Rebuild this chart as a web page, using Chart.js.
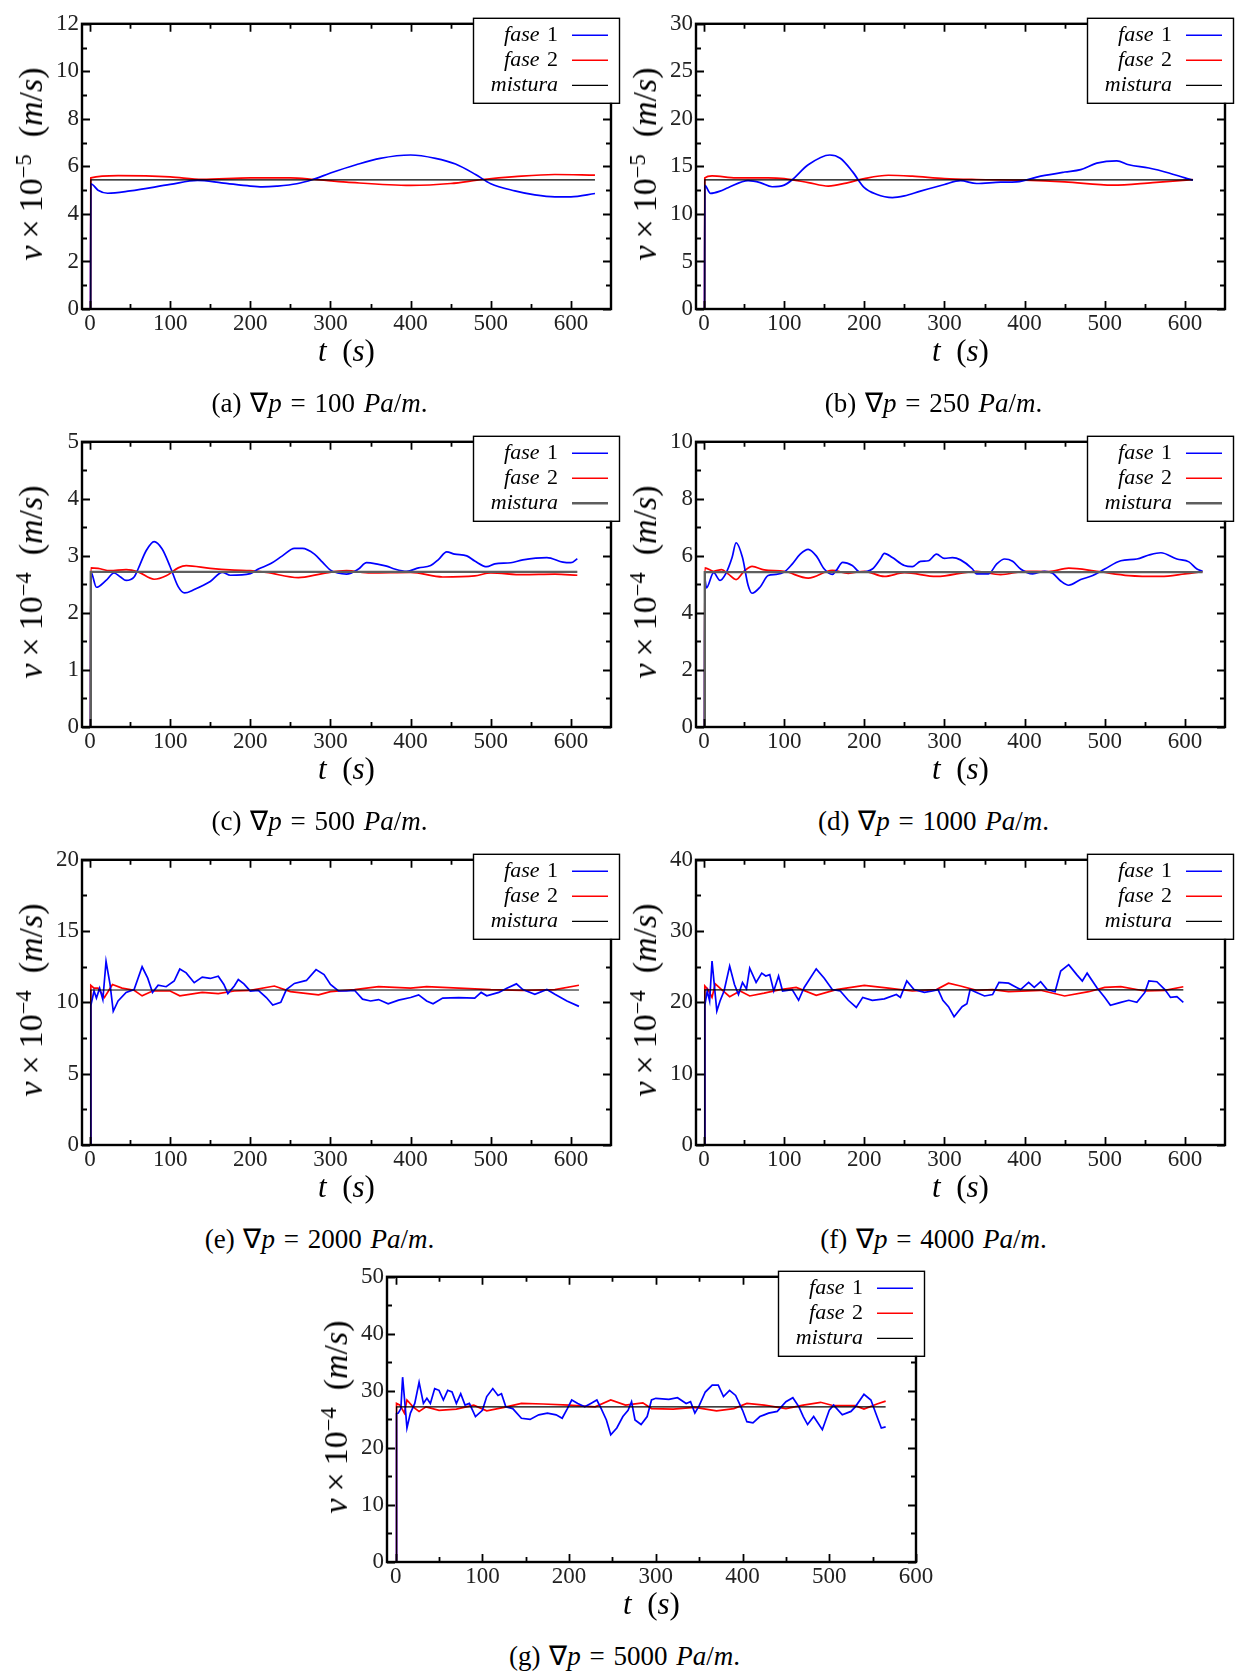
<!DOCTYPE html>
<html lang="pt">
<head>
<meta charset="UTF-8">
<title>Velocidade das fases</title>
<script src="https://cdn.jsdelivr.net/npm/chart.js"></script>
<style>
  body { margin: 0; background: #fff; }
  #page { position: relative; width: 1235px; height: 1671px; overflow: hidden; font-family: 'Liberation Serif', 'Times New Roman', Times, serif; color: #000; }
  .box { position: absolute; }
  .lbl { position: absolute; white-space: nowrap; transform: translate(-50%, -50%); line-height: 1; }
  .xt { font-size: 31px; }
  .yt { font-size: 34px; transform: translate(-50%, -50%) rotate(-90deg); }
  .cap { font-size: 27px; word-spacing: 2px; }
  sup { font-size: 0.66em; vertical-align: 0.5em; line-height: 0; }
  .op { margin: 0 7px; }
</style>
</head>
<body>
<div id="page"></div>
<script>
// ---- data: [t (s), v] ----
const xTicks = [0, 100, 200, 300, 400, 500, 600];

// (a) grad p = 100 Pa/m, v x 1e-5
const a_fase1 = [[0.6,0],[1,5.27],[10,5.0],[22,4.87],[50,4.97],[100,5.24],[134,5.41],[164,5.31],[200,5.17],[215,5.14],[233,5.17],[258,5.27],[278,5.45],[300,5.72],[332,6.07],[362,6.34],[400,6.48],[431,6.34],[456,6.10],[481,5.66],[500,5.27],[530,4.97],[555,4.80],[580,4.72],[600,4.72],[630,4.86]];
const a_fase2 = [[0.6,0],[1,5.52],[35,5.61],[100,5.56],[140,5.45],[200,5.52],[250,5.52],[280,5.45],[320,5.34],[400,5.20],[450,5.28],[490,5.45],[530,5.57],[580,5.66],[630,5.63]];
const a_mistura = [[0.6,0],[1,5.43],[630,5.43]];

// (b) 250 Pa/m, v x 1e-5
const b_fase1 = [[0.6,0],[1,13.0],[8,12.17],[20,12.4],[30,12.76],[55,13.5],[70,13.3],[85,12.86],[100,13.03],[110,13.6],[130,15.17],[157,16.2],[170,15.86],[185,14.48],[200,12.76],[215,12.07],[235,11.72],[250,11.9],[270,12.4],[300,13.1],[320,13.5],[340,13.2],[370,13.34],[390,13.38],[420,13.97],[450,14.41],[470,14.66],[490,15.34],[515,15.59],[530,15.17],[555,14.83],[580,14.31],[600,13.79],[610,13.55]];
const b_fase2 = [[0.6,0],[1,13.79],[10,14.0],[40,13.8],[80,13.8],[100,13.72],[130,13.3],[155,12.93],[180,13.3],[200,13.72],[230,14.07],[260,13.97],[300,13.72],[340,13.62],[400,13.55],[450,13.38],[510,13.03],[560,13.3],[610,13.6]];
const b_mistura = [[0.6,0],[1,13.59],[610,13.59]];

// (c) 500 Pa/m, v x 1e-4
const c_fase1 = [[0.6,0],[1,2.72],[8,2.45],[20,2.57],[30,2.70],[38,2.63],[45,2.57],[55,2.63],[60,2.77],[70,3.09],[80,3.25],[90,3.12],[100,2.81],[110,2.46],[118,2.35],[130,2.41],[150,2.55],[165,2.71],[175,2.66],[200,2.69],[210,2.77],[225,2.86],[240,3.0],[255,3.13],[265,3.13],[280,3.03],[290,2.89],[300,2.75],[320,2.68],[335,2.77],[345,2.88],[360,2.85],[370,2.82],[380,2.77],[395,2.73],[410,2.79],[425,2.83],[435,2.94],[445,3.07],[455,3.03],[470,3.0],[480,2.91],[495,2.81],[505,2.86],[525,2.88],[540,2.93],[570,2.97],[590,2.89],[600,2.88],[608,2.95]];
const c_fase2 = [[0.6,0],[1,2.79],[10,2.78],[25,2.74],[45,2.76],[60,2.72],[80,2.59],[95,2.65],[110,2.79],[120,2.83],[150,2.78],[180,2.75],[200,2.74],[220,2.71],[260,2.62],[290,2.69],[320,2.74],[350,2.70],[400,2.71],[440,2.63],[480,2.65],[500,2.70],[540,2.67],[580,2.68],[608,2.66]];
const c_mistura = [[0.6,0],[1,2.72],[608,2.72]];

// (d) 1000 Pa/m, v x 1e-4
const d_fase1 = [[0.6,0],[1,5.2],[3,4.88],[12,5.41],[20,5.14],[27,5.37],[35,5.94],[40,6.46],[48,5.94],[55,4.97],[60,4.69],[70,4.91],[80,5.31],[90,5.35],[100,5.43],[110,5.71],[120,6.06],[130,6.23],[140,6.0],[150,5.54],[160,5.35],[165,5.49],[173,5.77],[185,5.66],[195,5.43],[210,5.54],[220,5.89],[225,6.09],[235,5.94],[250,5.66],[260,5.62],[270,5.81],[280,5.83],[290,6.06],[300,5.91],[310,5.94],[320,5.86],[335,5.54],[340,5.37],[355,5.37],[365,5.71],[375,5.89],[385,5.81],[395,5.54],[410,5.37],[425,5.46],[435,5.39],[445,5.12],[455,4.97],[470,5.17],[485,5.31],[500,5.54],[520,5.83],[540,5.89],[555,6.03],[570,6.11],[590,5.89],[605,5.79],[615,5.54],[622,5.46]];
const d_fase2 = [[0.6,0],[1,5.58],[12,5.46],[22,5.52],[30,5.37],[40,5.17],[50,5.46],[60,5.63],[75,5.51],[100,5.46],[130,5.22],[160,5.49],[180,5.39],[200,5.46],[225,5.28],[250,5.41],[290,5.28],[340,5.46],[370,5.34],[400,5.46],[430,5.45],[455,5.57],[490,5.46],[530,5.31],[570,5.28],[600,5.37],[622,5.45]];
const d_mistura = [[0.6,0],[1,5.43],[622,5.43]];

// (e) 2000 Pa/m, v x 1e-4
const e_fase1 = [[0.6,0],[1,9.77],[5,10.8],[8,10.3],[12,11.0],[16,10.2],[20,12.87],[25,11.26],[29,9.38],[35,10.1],[45,10.7],[55,10.9],[65,12.5],[72,11.7],[78,10.7],[85,11.2],[95,11.1],[105,11.5],[112,12.34],[120,12.07],[130,11.38],[140,11.77],[150,11.68],[160,11.84],[167,11.26],[172,10.62],[180,11.15],[185,11.6],[192,11.3],[200,10.8],[210,10.85],[220,10.34],[228,9.82],[238,10.0],[245,10.9],[255,11.33],[270,11.54],[282,12.3],[292,11.95],[300,11.26],[310,10.8],[320,10.8],[330,10.85],[340,10.23],[350,10.1],[360,10.2],[372,9.9],[385,10.16],[400,10.34],[410,10.53],[420,10.1],[428,9.9],[440,10.3],[460,10.34],[480,10.3],[488,10.7],[495,10.46],[510,10.7],[520,11.0],[532,11.3],[540,10.9],[555,10.57],[570,10.9],[580,10.57],[595,10.1],[610,9.72]];
const e_fase2 = [[0.6,0],[1,11.2],[5,11.0],[10,11.0],[18,10.34],[28,11.26],[40,11.0],[55,10.85],[65,10.46],[78,10.8],[100,10.8],[112,10.46],[140,10.7],[160,10.62],[180,10.8],[200,10.85],[230,11.15],[250,10.76],[285,10.53],[300,10.76],[330,10.9],[360,11.1],[400,11.0],[420,11.1],[460,11.0],[500,10.9],[540,10.85],[580,10.9],[610,11.2]];
const e_mistura = [[0.6,0],[1,10.87],[610,10.87]];

// (f) 4000 Pa/m, v x 1e-4
const f_fase1 = [[0.6,0],[1,19.6],[4,21.6],[7,20.2],[10,25.8],[14,21.1],[16,18.8],[20,20.2],[25,21.6],[32,25.1],[38,22.5],[43,21.1],[48,22.8],[53,21.9],[57,24.8],[65,22.8],[72,24.1],[77,23.7],[82,23.9],[87,21.6],[93,23.7],[98,21.6],[110,21.8],[118,20.3],[125,22.1],[140,24.7],[150,23.4],[160,21.8],[170,21.6],[180,20.3],[190,19.3],[198,20.7],[210,20.3],[225,20.5],[240,21.1],[245,20.7],[253,23.0],[262,21.8],[275,21.4],[285,21.6],[292,21.8],[298,20.3],[305,19.4],[312,18.0],[322,19.4],[328,19.8],[332,21.8],[340,21.4],[350,20.9],[360,21.1],[368,22.8],[380,22.7],[390,22.1],[395,21.8],[405,22.8],[412,22.1],[420,22.9],[428,21.8],[438,21.5],[445,24.4],[455,25.3],[465,23.9],[472,23.0],[478,24.1],[490,22.1],[500,20.7],[507,19.6],[520,20.0],[530,20.3],[540,20.0],[550,21.4],[555,23.0],[565,22.9],[575,21.8],[582,20.7],[590,20.8],[598,20.0]];
const f_fase2 = [[0.6,0],[1,22.3],[5,21.8],[10,20.7],[14,22.6],[22,21.8],[32,20.8],[45,21.6],[57,20.9],[75,21.3],[95,21.8],[115,22.1],[140,21.0],[165,21.8],[200,22.4],[230,22.0],[260,21.6],[290,21.8],[305,22.7],[320,22.3],[340,21.7],[360,21.8],[380,21.5],[420,21.7],[450,20.9],[480,21.5],[500,22.1],[520,22.2],[550,21.6],[575,21.7],[598,22.2]];
const f_mistura = [[0.6,0],[1,21.75],[598,21.75]];

// (g) 5000 Pa/m, v x 1e-4
const g_fase1 = [[0.6,0],[1,26.0],[3,26.1],[6,26.9],[8,32.4],[11,27.2],[13,23.5],[17,26.1],[22,27.8],[27,31.5],[32,27.8],[36,28.7],[40,27.8],[45,30.4],[50,30.1],[55,28.4],[60,30.1],[65,29.8],[70,27.8],[75,29.5],[80,27.5],[85,27.8],[92,25.5],[100,26.6],[105,29.0],[112,30.4],[118,29.2],[122,29.5],[127,27.2],[135,26.9],[145,25.2],[155,25.0],[165,25.8],[175,26.1],[185,25.8],[192,25.2],[198,26.9],[203,28.4],[210,27.8],[218,27.2],[225,27.8],[232,28.4],[237,26.9],[243,24.9],[248,22.3],[255,23.5],[262,25.5],[268,26.6],[272,28.1],[276,24.9],[283,24.1],[290,25.5],[295,28.4],[300,28.7],[315,28.5],[325,28.8],[335,27.8],[340,28.1],[345,26.1],[350,27.4],[357,29.8],[365,31.0],[372,31.0],[378,29.0],[385,30.1],[392,29.2],[400,26.6],[405,24.6],[412,24.4],[420,25.5],[425,25.8],[430,26.1],[440,26.4],[450,28.1],[458,28.8],[465,27.2],[470,25.5],[475,24.1],[482,25.5],[492,23.2],[500,26.6],[505,27.5],[515,25.8],[525,26.4],[530,27.2],[540,29.4],[548,28.4],[555,25.5],[560,23.5],[565,23.7]];
const g_fase2 = [[0.6,0],[1,27.8],[5,27.5],[10,26.1],[13,28.4],[20,27.2],[27,26.4],[35,27.2],[50,26.6],[70,26.8],[90,27.5],[105,26.5],[125,27.1],[145,27.8],[170,27.7],[200,27.5],[230,27.2],[248,28.4],[265,27.5],[285,27.9],[295,26.9],[320,26.8],[345,27.1],[370,26.5],[390,26.9],[405,27.8],[425,27.5],[450,26.9],[470,27.5],[490,28.0],[505,27.4],[530,27.4],[540,26.8],[555,27.7],[565,28.2]];
const g_mistura = [[0.6,0],[1,27.2],[565,27.2]];

const seriesNames = ['fase 1', 'fase 2', 'mistura'];

// ---- panel layout ----
const PW = 529, PH = 290;
const panels = [
  { key: 'a', left: 82,  top: 19,   xMax: 650, yTicks: [0,2,4,6,8,10,12], exp: '5', grad: '100',  f1: a_fase1, f2: a_fase2, mix: a_mistura, smooth: true,  mixColor: '#000', mixWidth: 1.2 },
  { key: 'b', left: 696, top: 19,   xMax: 650, yTicks: [0,5,10,15,20,25,30], exp: '5', grad: '250', f1: b_fase1, f2: b_fase2, mix: b_mistura, smooth: true,  mixColor: '#000', mixWidth: 1.2 },
  { key: 'c', left: 82,  top: 437,  xMax: 650, yTicks: [0,1,2,3,4,5], exp: '4', grad: '500',  f1: c_fase1, f2: c_fase2, mix: c_mistura, smooth: true,  mixColor: '#5e5e5e', mixWidth: 2.4 },
  { key: 'd', left: 696, top: 437,  xMax: 650, yTicks: [0,2,4,6,8,10], exp: '4', grad: '1000', f1: d_fase1, f2: d_fase2, mix: d_mistura, smooth: true,  mixColor: '#5e5e5e', mixWidth: 2.4 },
  { key: 'e', left: 82,  top: 855,  xMax: 650, yTicks: [0,5,10,15,20], exp: '4', grad: '2000', f1: e_fase1, f2: e_fase2, mix: e_mistura, smooth: false, mixColor: '#000', mixWidth: 1.2 },
  { key: 'f', left: 696, top: 855,  xMax: 650, yTicks: [0,10,20,30,40], exp: '4', grad: '4000', f1: f_fase1, f2: f_fase2, mix: f_mistura, smooth: false, mixColor: '#000', mixWidth: 1.2 },
  { key: 'g', left: 387, top: 1272, xMax: 600, yTicks: [0,10,20,30,40,50], exp: '4', grad: '5000', f1: g_fase1, f2: g_fase2, mix: g_mistura, smooth: false, mixColor: '#000', mixWidth: 1.2 }
];

const PAD_L = 70, PAD_T = 12, PAD_R = 24, PAD_B = 40;
const SERIF = "'Liberation Serif', 'Times New Roman', Times, serif";
const page = document.getElementById('page');
Chart.defaults.font.family = SERIF;

// frame, inward major/minor ticks on all four sides, and the boxed legend
const frameLegend = {
  id: 'frameLegend',
  afterDatasetsDraw(chart, args, opts) {
    const { ctx, chartArea: a, scales: { x, y } } = chart;
    ctx.save();
    ctx.strokeStyle = '#000';
    ctx.lineWidth = 1.8;
    const xs = x.ticks.map(t => t.value), ys = y.ticks.map(t => t.value);
    const mid = arr => arr.slice(0, -1).map((v, i) => (v + arr[i + 1]) / 2);
    ctx.beginPath();
    [[xs, 8], [mid(xs), 5]].forEach(([vals, len]) => vals.forEach(v => {
      const px = Math.round(x.getPixelForValue(v)) + 0.5;
      ctx.moveTo(px, a.bottom); ctx.lineTo(px, a.bottom - len);
      ctx.moveTo(px, a.top); ctx.lineTo(px, a.top + len);
    }));
    [[ys, 8], [mid(ys), 5]].forEach(([vals, len]) => vals.forEach(v => {
      const py = Math.round(y.getPixelForValue(v)) + 0.5;
      ctx.moveTo(a.left, py); ctx.lineTo(a.left + len, py);
      ctx.moveTo(a.right, py); ctx.lineTo(a.right - len, py);
    }));
    ctx.stroke();
    ctx.lineWidth = 2.4;
    ctx.strokeRect(a.left, a.top, a.right - a.left, a.bottom - a.top);

    // legend
    const bw = 146, bh = 85;
    const bx = a.right + 8 - bw, by = a.top - 6;
    ctx.fillStyle = '#fff';
    ctx.fillRect(bx, by, bw, bh);
    ctx.lineWidth = 1.4;
    ctx.strokeRect(bx + 0.5, by + 0.5, bw, bh);
    const colors = ['#0000ff', '#ff0000', opts.mixColor];
    const widths = [1.4, 1.4, opts.mixWidth];
    ctx.textBaseline = 'middle';
    ctx.fillStyle = '#000';
    seriesNames.forEach((name, i) => {
      const ry = by + 17 + i * 25;
      const tx = bx + 85;
      const parts = name.split(' ');
      ctx.textAlign = 'right';
      if (parts.length > 1) {
        ctx.font = '22px ' + SERIF;
        ctx.fillText(parts[1], tx, ry);
        const w = ctx.measureText(' ' + parts[1]).width;
        ctx.font = 'italic 22px ' + SERIF;
        ctx.fillText(parts[0], tx - w - 2, ry);
      } else {
        ctx.font = 'italic 22px ' + SERIF;
        ctx.fillText(name, tx, ry);
      }
      ctx.strokeStyle = colors[i];
      ctx.lineWidth = widths[i];
      ctx.beginPath();
      ctx.moveTo(bx + 99, ry + 0.5); ctx.lineTo(bx + 135, ry + 0.5);
      ctx.stroke();
    });
    ctx.restore();
  }
};

function addLabel(cls, html, cx, cy) {
  const d = document.createElement('div');
  d.className = 'lbl ' + cls;
  d.innerHTML = html;
  d.style.left = cx + 'px';
  d.style.top = cy + 'px';
  page.appendChild(d);
}

function buildPanel(p) {
  const W = PAD_L + PW + PAD_R, H = PAD_T + PH + PAD_B;
  const wrap = document.createElement('div');
  wrap.className = 'box';
  wrap.style.left = (p.left - PAD_L) + 'px';
  wrap.style.top = (p.top - PAD_T) + 'px';
  const cv = document.createElement('canvas');
  cv.width = W; cv.height = H;
  cv.style.width = W + 'px'; cv.style.height = H + 'px';
  wrap.appendChild(cv);
  page.appendChild(wrap);

  const pts = arr => arr.map(([t, v]) => ({ x: t, y: v }));
  const curve = p.smooth ? { cubicInterpolationMode: 'monotone' } : { tension: 0 };
  const tickFont = { family: SERIF, size: 23 };

  new Chart(cv, {
    type: 'line',
    data: {
      datasets: [
        { label: seriesNames[2], data: pts(p.mix), borderColor: p.mixColor, borderWidth: p.mixWidth, tension: 0 },
        Object.assign({ label: seriesNames[0], data: pts(p.f1), borderColor: '#0000ff', borderWidth: 1.7 }, curve),
        Object.assign({ label: seriesNames[1], data: pts(p.f2), borderColor: '#ff0000', borderWidth: 1.7 }, curve)
      ]
    },
    options: {
      responsive: false,
      animation: false,
      devicePixelRatio: 1,
      layout: { padding: { left: 0, top: PAD_T, right: PAD_R, bottom: 0 } },
      elements: { point: { radius: 0 }, line: { fill: false } },
      plugins: {
        legend: { display: false },
        tooltip: { enabled: false },
        frameLegend: { mixColor: p.mixColor, mixWidth: p.mixWidth }
      },
      scales: {
        x: {
          type: 'linear', min: -10, max: p.xMax,
          grid: { display: false, drawTicks: false }, border: { display: false },
          afterBuildTicks: s => { s.ticks = xTicks.map(v => ({ value: v })); },
          afterFit: s => { s.height = PAD_B; },
          ticks: { font: tickFont, color: '#222', padding: 1, maxRotation: 0, autoSkip: false }
        },
        y: {
          type: 'linear', min: 0, max: p.yTicks[p.yTicks.length - 1],
          grid: { display: false, drawTicks: false }, border: { display: false },
          afterBuildTicks: s => { s.ticks = p.yTicks.map(v => ({ value: v })); },
          afterFit: s => { s.width = PAD_L; },
          ticks: { font: tickFont, color: '#222', padding: 3, autoSkip: false }
        }
      }
    },
    plugins: [frameLegend]
  });

  const cx = p.left + PW / 2;
  addLabel('xt', '<i>t</i>&nbsp; (<i>s</i>)', cx, p.top + 331);
  addLabel('yt', '<i>v</i><span class="op">×</span>10<sup>−' + p.exp + '</sup>&nbsp;&nbsp;(<i>m</i>/<i>s</i>)', p.left - 51, p.top + PH / 2);
  addLabel('cap', '(' + p.key + ') ∇<i>p</i> = ' + p.grad + ' <i>Pa</i>/<i>m</i>.', cx - 27, p.top + 384);
}

panels.forEach(buildPanel);
</script>
</body>
</html>
